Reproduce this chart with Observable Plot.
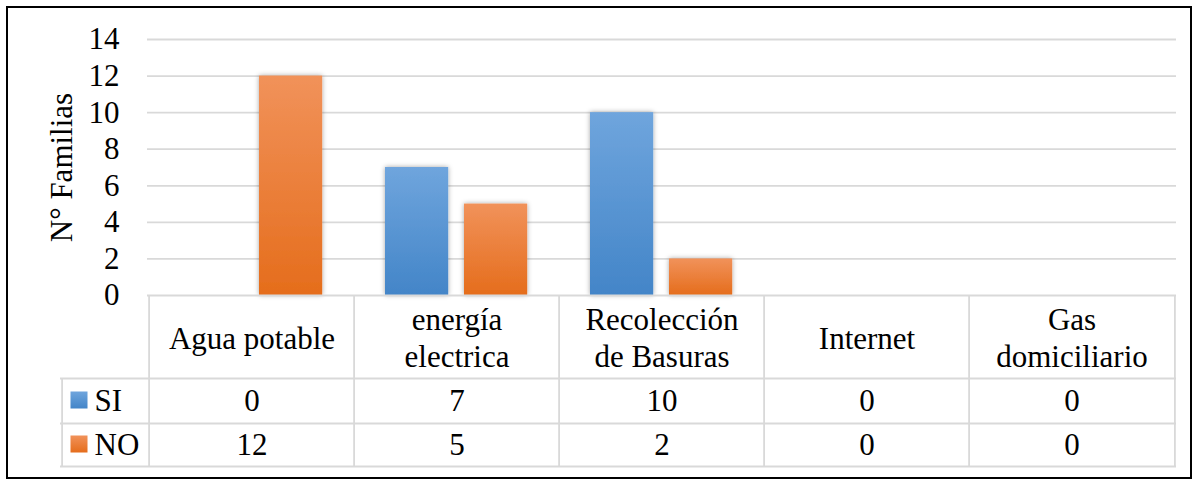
<!DOCTYPE html>
<html>
<head>
<meta charset="utf-8">
<script src="https://cdn.jsdelivr.net/npm/d3@7"></script>
<script src="https://cdn.jsdelivr.net/npm/@observablehq/plot@0.6"></script>
<style>
  html, body { margin: 0; padding: 0; background: #fff; }
  #wrap { position: relative; width: 1199px; height: 481px; overflow: hidden; }
  #chart { position: absolute; left: 0; top: 0; }
  #chart svg, #chart svg text { font-family: "Liberation Serif", "Times New Roman", serif; }
  #border { position: absolute; left: 6px; top: 6px; width: 1186px; height: 473px;
            border: 2px solid #000; box-sizing: border-box; pointer-events: none; }
</style>
</head>
<body>
<div id="wrap"><div id="chart"></div><div id="border"></div></div>
<script>
// ---- data ----
const categories = ["Agua potable", "energía electrica", "Recolección de Basuras", "Internet", "Gas domiciliario"];
const headerLabels = ["Agua potable", "energía\nelectrica", "Recolección\nde Basuras", "Internet", "Gas\ndomiciliario"];
const series = ["SI", "NO"];
const siValues = [0, 7, 10, 0, 0];
const noValues = [12, 5, 2, 0, 0];
const yTicks = [0, 2, 4, 6, 8, 10, 12, 14];
const yTitle = "N° Familias";

const rows = categories.map((c, i) => ({category: c, header: headerLabels[i], SI: siValues[i], NO: noValues[i]}));

// ---- layout ----
const W = 1199, H = 481;
const mL = 147, mR = 23, mT = 39, mB = 186;
const bw = (W - mL - mR) / categories.length;
const frameH = H - mT - mB;
const font = "Liberation Serif";
const fs = 31;
const grid = "#d9d9d9";
const headerH = 83, rowH1 = 45, rowH2 = 43;
const legendW = 87;

const txt = {fontSize: fs, fontFamily: font, fill: "#000", lineAnchor: "middle"};

const plot = Plot.plot({
  width: W, height: H,
  marginLeft: mL, marginRight: mR, marginTop: mT, marginBottom: mB,
  style: {fontFamily: font, fontSize: fs + "px", background: "transparent", color: "#000", overflow: "visible"},
  x: {type: "band", domain: categories, padding: 0, axis: null},
  y: {domain: [0, 14], axis: null},
  marks: [
    // gridlines
    Plot.ruleY(yTicks.filter(d => d > 0), {stroke: grid, strokeWidth: 1.8}),
    // tick labels
    Plot.text(yTicks, {y: d => d, text: d => String(d), frameAnchor: "left", textAnchor: "end", dx: -28, ...txt}),
    // y title
    Plot.text([yTitle], {frameAnchor: "left", text: d => d, rotate: -90, dx: -85, textAnchor: "middle", ...txt}),
    // bars
    Plot.barY(rows.filter(d => d.SI > 0), {x: "category", y: "SI", fill: "url(#gradSI)", insetLeft: 31, insetRight: bw - 95}),
    Plot.barY(rows.filter(d => d.NO > 0), {x: "category", y: "NO", fill: "url(#gradNO)", insetLeft: 110, insetRight: bw - 174}),
    // table: horizontal lines
    Plot.ruleY([0], {stroke: grid, strokeWidth: 1.8}),
    Plot.ruleY([0], {stroke: grid, strokeWidth: 1.8, dy: headerH, insetLeft: -legendW}),
    Plot.ruleY([0], {stroke: grid, strokeWidth: 1.8, dy: headerH + rowH1, insetLeft: -legendW}),
    Plot.ruleY([0], {stroke: grid, strokeWidth: 1.8, dy: headerH + rowH1 + rowH2, insetLeft: -legendW}),
    // table: vertical lines
    Plot.ruleX(categories, {x: d => d, dx: -bw / 2, stroke: grid, strokeWidth: 1.8, insetTop: frameH, insetBottom: -(headerH + rowH1 + rowH2)}),
    Plot.ruleX([categories[categories.length - 1]], {x: d => d, dx: bw / 2, stroke: grid, strokeWidth: 1.8, insetTop: frameH, insetBottom: -(headerH + rowH1 + rowH2)}),
    Plot.ruleX([categories[0]], {x: d => d, dx: -bw / 2 - legendW, stroke: grid, strokeWidth: 1.8, insetTop: frameH + headerH, insetBottom: -(headerH + rowH1 + rowH2)}),
    // table: header labels
    Plot.text(rows, {x: "category", text: "header", frameAnchor: "bottom", dy: headerH / 2, lineHeight: 1.18, ...txt}),
    // table: values
    Plot.text(rows, {x: "category", text: d => String(d.SI), frameAnchor: "bottom", dy: headerH + rowH1 / 2, ...txt}),
    Plot.text(rows, {x: "category", text: d => String(d.NO), frameAnchor: "bottom", dy: headerH + rowH1 + rowH2 / 2, ...txt}),
    // table: legend keys
    Plot.dot([series[0]], {frameAnchor: "bottom-left", symbol: "square", r: 9.6, fill: "url(#gradSI)", dx: -68.5, dy: headerH + rowH1 / 2 - 1}),
    Plot.dot([series[1]], {frameAnchor: "bottom-left", symbol: "square", r: 9.6, fill: "url(#gradNO)", dx: -68.5, dy: headerH + rowH1 + rowH2 / 2 - 1}),
    Plot.text([series[0]], {frameAnchor: "bottom-left", text: d => d, textAnchor: "start", dx: -53, dy: headerH + rowH1 / 2, ...txt}),
    Plot.text([series[1]], {frameAnchor: "bottom-left", text: d => d, textAnchor: "start", dx: -53, dy: headerH + rowH1 + rowH2 / 2, ...txt})
  ]
});

// gradients + subtle shadow
const svg = d3.select(plot);
const defs = svg.insert("defs", ":first-child");
function grad(id, top, bottom) {
  const g = defs.append("linearGradient").attr("id", id).attr("x1", 0).attr("y1", 0).attr("x2", 0).attr("y2", 1);
  g.append("stop").attr("offset", "0%").attr("stop-color", top);
  g.append("stop").attr("offset", "100%").attr("stop-color", bottom);
}
grad("gradSI", "#6fa5dd", "#4385c8");
grad("gradNO", "#f1925a", "#e56d1c");
const f = defs.append("filter").attr("id", "shadow").attr("x", "-20%").attr("y", "-20%").attr("width", "140%").attr("height", "140%");
f.append("feDropShadow").attr("dx", 0).attr("dy", 0).attr("stdDeviation", 2.5).attr("flood-color", "#000").attr("flood-opacity", 0.35);
svg.selectAll("rect").each(function() {
  const fl = this.getAttribute("fill") || (this.parentNode && this.parentNode.getAttribute("fill"));
  if (fl && fl.startsWith("url(")) this.setAttribute("filter", "url(#shadow)");
});

document.getElementById("chart").appendChild(plot);
</script>
</body>
</html>
